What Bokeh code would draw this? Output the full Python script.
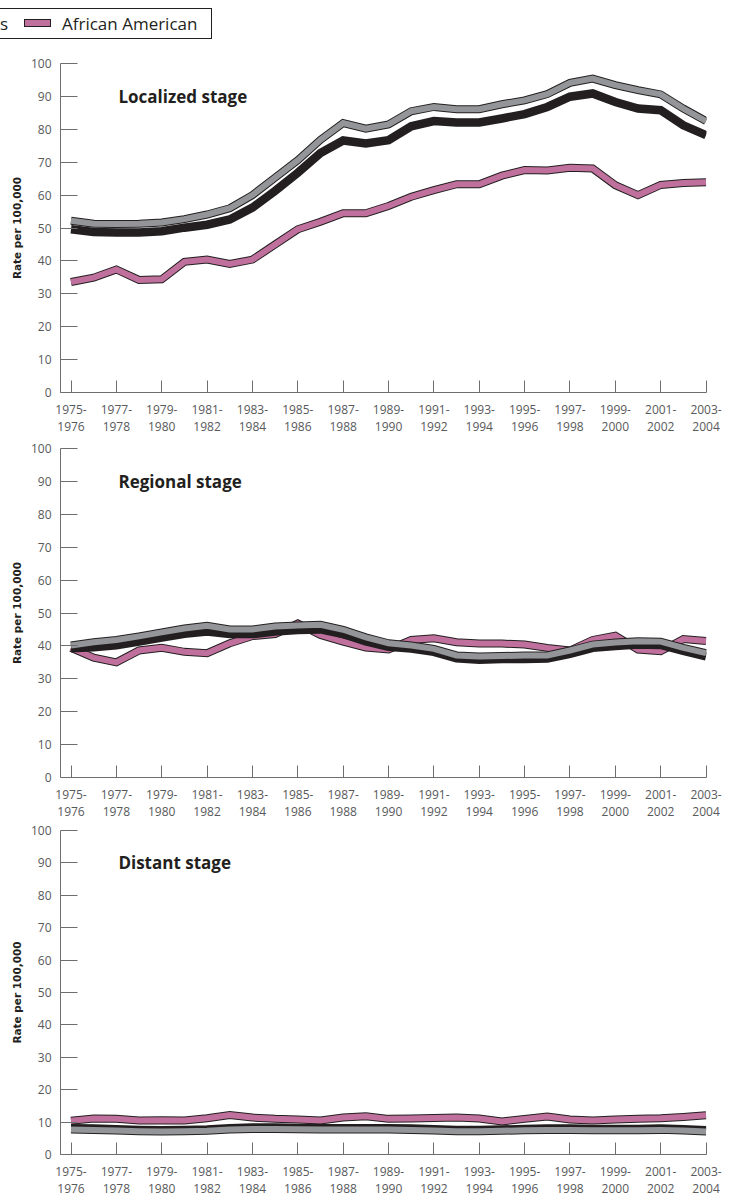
from bokeh.plotting import figure
from bokeh.layouts import column
from bokeh.models import Range1d, FixedTicker, Div
from bokeh.core.properties import value
from bokeh.embed import file_html
from bokeh.resources import INLINE

# ---------------- data ----------------
years = [1975, 1976, 1977, 1978, 1979, 1980, 1981, 1982, 1983, 1984,
         1985, 1986, 1987, 1988, 1989, 1990, 1991, 1992, 1993, 1994,
         1995, 1996, 1997, 1998, 1999, 2000, 2001, 2002, 2003]

tick_years = [1975, 1977, 1979, 1981, 1983, 1985, 1987, 1989, 1991, 1993,
              1995, 1997, 1999, 2001, 2003]
tick_labels = ["1975-\n1976", "1977-\n1978", "1979-\n1980", "1981-\n1982",
               "1983-\n1984", "1985-\n1986", "1987-\n1988", "1989-\n1990",
               "1991-\n1992", "1993-\n1994", "1995-\n1996", "1997-\n1998",
               "1999-\n2000", "2001-\n2002", "2003-\n2004"]

# legend texts as visible in the (left-cropped) source
legend_texts = ["s", "African American"]

local_all = [49.6, 48.8, 48.6, 48.6, 49.0, 50.1, 51.0, 52.6, 56.2, 61.3,
             66.8, 72.8, 76.6, 75.7, 76.7, 80.9, 82.5, 82.1, 82.1, 83.3,
             84.6, 86.8, 89.9, 90.9, 88.3, 86.3, 85.8, 81.2, 78.2]
local_white = [52.2, 51.3, 51.2, 51.3, 51.7, 52.7, 54.1, 56.0, 60.0, 65.3,
               70.6, 76.8, 81.9, 80.2, 81.5, 85.5, 86.8, 86.1, 86.1, 87.6,
               88.8, 90.7, 94.1, 95.4, 93.4, 91.9, 90.6, 86.3, 82.5]
local_aa = [33.6, 34.9, 37.4, 34.2, 34.4, 39.7, 40.4, 39.1, 40.4, 45.0,
            49.6, 51.9, 54.5, 54.5, 56.7, 59.5, 61.5, 63.3, 63.3, 65.9,
            67.6, 67.5, 68.3, 68.1, 63.0, 60.0, 63.1, 63.7, 63.9]

regional_all = [39.3, 39.6, 40.2, 41.3, 42.5, 43.7, 44.4, 43.6, 43.6, 44.4,
                44.8, 45.0, 43.6, 41.4, 39.7, 39.2, 38.2, 36.2, 35.8, 36.0,
                36.0, 36.2, 37.6, 39.4, 40.0, 40.4, 40.3, 38.5, 36.8]
regional_white = [40.1, 41.1, 41.8, 42.9, 44.1, 45.3, 46.1, 45.0, 45.0, 45.9,
                  46.2, 46.4, 44.9, 42.6, 40.8, 40.1, 39.1, 37.1, 36.8, 36.9,
                  37.1, 37.1, 38.6, 40.4, 41.0, 41.4, 41.3, 39.4, 37.8]
regional_aa = [39.4, 36.4, 35.0, 38.6, 39.4, 38.2, 37.8, 40.8, 43.0, 43.6,
               46.8, 43.3, 41.3, 39.5, 38.9, 41.8, 42.3, 41.1, 40.7, 40.7,
               40.4, 39.4, 38.6, 41.8, 43.1, 38.9, 38.4, 42.1, 41.5]

distant_all = [8.1, 8.0, 7.8, 7.6, 7.5, 7.6, 7.7, 8.1, 8.3, 8.3,
               8.2, 8.1, 8.1, 8.1, 8.1, 8.0, 7.8, 7.6, 7.6, 7.7,
               7.9, 8.0, 8.0, 7.9, 7.9, 7.9, 8.0, 7.8, 7.5]
distant_white = [7.7, 7.6, 7.4, 7.2, 7.1, 7.2, 7.3, 7.7, 7.9, 7.9,
                 7.8, 7.7, 7.7, 7.7, 7.7, 7.6, 7.4, 7.2, 7.2, 7.3,
                 7.5, 7.6, 7.6, 7.5, 7.5, 7.5, 7.6, 7.4, 7.1]
distant_aa = [10.4, 11.1, 11.0, 10.5, 10.6, 10.5, 11.2, 12.2, 11.4, 11.0,
              10.8, 10.5, 11.4, 11.8, 11.0, 11.1, 11.3, 11.4, 11.1, 10.2,
              11.0, 11.7, 10.8, 10.5, 10.8, 11.0, 11.2, 11.6, 12.1]

y_ticks = [0, 10, 20, 30, 40, 50, 60, 70, 80, 90, 100]
panel_titles = ["Localized stage", "Regional stage", "Distant stage"]

# ---------------- style ----------------
DARK = "#231f20"
GRAY = "#939598"
PINK = "#c0709c"
AXIS = "#6d6e71"
LABEL = "#58595b"


def make_panel(title, all_r, white, aa, top, bottom, frame_h=329):
    p = figure(width=731, height=top + frame_h + bottom,
               x_range=Range1d(1974.537, 2003.02), y_range=Range1d(0, 100),
               output_backend="svg", toolbar_location=None,
               min_border_left=60, min_border_right=25,
               min_border_top=top, min_border_bottom=bottom)
    p.outline_line_color = None
    p.xgrid.visible = False
    p.ygrid.visible = False
    p.background_fill_color = "white"

    # African American (drawn first, underneath)
    p.line(years, aa, line_width=8, line_color=DARK, line_join="miter")
    p.line(years, aa, line_width=6, line_color=PINK, line_join="miter")
    # All races
    p.line(years, all_r, line_width=8.5, line_color=DARK, line_join="miter")
    # Whites
    p.line(years, white, line_width=8, line_color=DARK, line_join="miter")
    p.line(years, white, line_width=6, line_color=GRAY, line_join="miter")

    p.text(x=[1977.09], y=[90], text=[title], text_font=value("Open Sans"),
           text_font_style="bold", text_font_size="17px",
           text_baseline="middle", text_align="left", text_color=DARK)

    xa = p.xaxis[0]
    xa.ticker = FixedTicker(ticks=tick_years)
    xa.major_label_overrides = {y: l for y, l in zip(tick_years, tick_labels)}
    xa.minor_tick_line_color = None
    xa.major_tick_in = 12
    xa.major_tick_out = 0
    xa.major_label_standoff = 8
    xa.axis_line_color = AXIS
    xa.major_tick_line_color = AXIS
    xa.major_label_text_font = "Open Sans"
    xa.major_label_text_font_size = "12px"
    xa.major_label_text_color = LABEL
    xa.major_label_text_line_height = 1.0

    ya = p.yaxis[0]
    ya.ticker = FixedTicker(ticks=y_ticks)
    ya.minor_tick_line_color = None
    ya.major_tick_in = 17
    ya.major_tick_out = 0
    ya.major_label_standoff = 9
    ya.axis_line_color = AXIS
    ya.major_tick_line_color = AXIS
    ya.major_label_text_font = "Open Sans"
    ya.major_label_text_font_size = "12px"
    ya.major_label_text_color = LABEL
    ya.axis_label = "Rate per 100,000"
    ya.axis_label_text_font = "DejaVu Sans"
    ya.axis_label_text_font_style = "bold"
    ya.axis_label_text_font_size = "10.5px"
    ya.axis_label_text_color = DARK
    ya.axis_label_standoff = 5
    return p


# ---------------- legend strip (cropped at the left, as in the source) ----------------
legend_html = (
    '<div style="position:relative;width:731px;height:40px;overflow:hidden;'
    "font-family:'Open Sans',sans-serif;font-size:17px;color:%s;\">" % DARK
    + '<div style="position:absolute;left:-60px;top:8px;width:272px;height:31px;'
      'border:1px solid %s;box-sizing:border-box;"></div>' % DARK
    + '<div style="position:absolute;left:24px;top:19px;width:27px;height:8px;'
      'background:%s;border:1px solid %s;box-sizing:border-box;"></div>' % (PINK, DARK)
    + '<span style="position:absolute;left:0px;top:13px;line-height:22px;white-space:nowrap;">%s</span>'
      % legend_texts[0]
    + '<span style="position:absolute;left:62px;top:13px;line-height:22px;white-space:nowrap;">%s</span>'
      % legend_texts[1]
    + '</div>'
)
leg = Div(text=legend_html, width=731, height=40, margin=(0, 0, 0, 0))

p1 = make_panel(panel_titles[0], local_all, local_white, local_aa, top=23, bottom=45)
p2 = make_panel(panel_titles[1], regional_all, regional_white, regional_aa, top=11, bottom=45)
p3 = make_panel(panel_titles[2], distant_all, distant_white, distant_aa, top=8, bottom=44,
                frame_h=325)

layout = column(leg, p1, p2, p3, spacing=0)
open("out.html", "w").write(file_html(layout, INLINE))
